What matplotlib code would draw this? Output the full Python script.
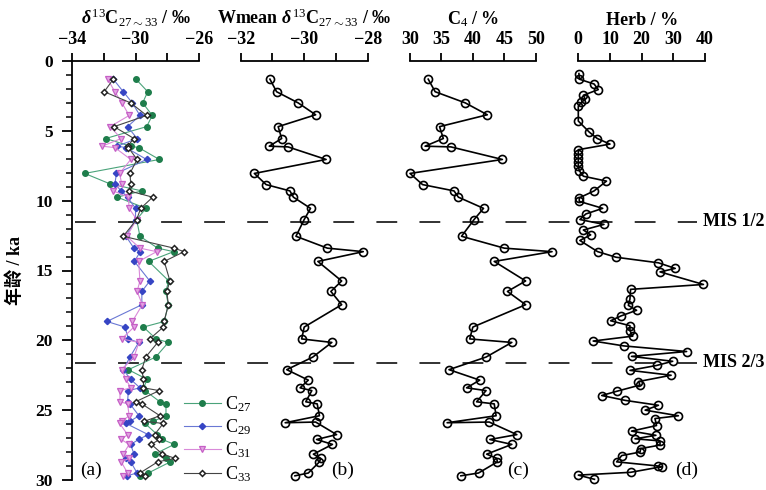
import numpy as np
import matplotlib
matplotlib.use('Agg')
import matplotlib.pyplot as plt

plt.rcParams['font.family'] = ['Liberation Serif', 'Noto Sans CJK SC', 'DejaVu Serif']
plt.rcParams['mathtext.fontset'] = 'custom'
plt.rcParams['mathtext.rm'] = 'Liberation Serif'
plt.rcParams['mathtext.it'] = 'Liberation Serif:italic'
plt.rcParams['mathtext.bf'] = 'Liberation Serif:bold'
plt.rcParams['mathtext.bfit'] = 'Liberation Serif:italic:bold'
plt.rcParams['lines.scale_dashes'] = False

# ---- data ----
ages_a = [1.3, 2.2, 3.0, 3.9, 4.7, 5.55, 6.1, 6.2, 7.05, 8.05, 8.8, 9.3, 9.75, 10.55,
          11.35, 12.55, 13.4, 13.65, 14.35, 15.75, 16.5, 17.45, 18.65, 19.05, 19.9,
          20.15, 21.2, 22.1, 22.8, 23.4, 23.6, 24.4, 24.55, 25.4, 25.8, 25.95, 26.75,
          27.1, 27.45, 28.15, 28.45, 28.7, 29.5, 29.7]
c27 = [-29.97, -29.23, -29.55, -28.94, -29.30, -31.88, -30.3, -29.8, -28.5, -33.2,
       -31.6, -29.6, -31.15, -29.34, -29.93, -29.72, -28.6, -27.6, -29.17, -27.9,
       -28.1, -27.93, -28.19, -29.5, -28.7, -27.93, -28.73, -30.45, -29.26, -29.5,
       -29.4, -28.46, -28.08, -28.08, -28.9, -29.4, -28.63, -28.3, -27.56, -28.8,
       -28.08, -27.8, -29.2, -29.7]
c29 = [-31.4, -30.77, -30.2, -29.72, -30.5, -29.9, -31.15, -30.6, -29.3, -31.2,
       -31.3, -30.9, -30.5, -30.0, -30.0, -30.6, -30.1, -29.7, -30.07, -29.1,
       -29.6, -29.6, -31.8, -30.66, -30.45, -29.8, -30.35, -30.77, -30.3, -29.72,
       -30.45, -30.5, -30.35, -29.78, -30.35, -30.6, -29.2, -29.8, -30.3, -30.1,
       -30.6, -30.3, -29.9, -30.55]
c31 = [-31.75, -31.3, -30.85, -30.4, -31.6, -30.9, -32.1, -31.3, -30.3, -31.0,
       -30.87, -31.4, -30.45, -30.4, -29.93, -30.55, -29.72, -28.67, -29.8, -29.72,
       -29.9, -29.57, -30.2, -30.1, -30.87, -29.78, -30.1, -30.87, -30.6, -30.3,
       -30.98, -30.98, -30.5, -30.4, -30.87, -31.0, -30.5, -30.9, -30.4, -30.77,
       -30.4, -30.9, -30.5, -30.8]
c33 = [-31.4, -31.97, -30.3, -29.3, -31.35, -30.1, -30.5, -30.45, -29.9, -30.35,
       -30.3, -30.4, -28.92, -29.67, -29.93, -30.77, -27.57, -26.94, -28.19, -27.83,
       -28.03, -27.93, -28.2, -28.25, -29.1, -28.6, -29.36, -29.6, -29.5, -29.5,
       -28.5, -30.0, -29.6, -28.46, -29.45, -28.25, -28.8, -28.5, -29.0, -28.3,
       -27.5, -28.6, -29.72, -29.4]

ages_b = [1.3, 2.2, 3.0, 3.85, 4.7, 5.55, 6.1, 6.15, 7.05, 8.05, 8.85, 9.3, 9.75,
          10.55, 11.35, 12.55, 13.4, 13.65, 14.35, 15.75, 16.5, 17.45, 19.05, 19.9,
          20.15, 21.2, 22.1, 22.85, 23.4, 23.6, 24.4, 24.55, 25.4, 25.9, 25.85, 26.75,
          27.1, 27.45, 28.15, 28.45, 28.7, 29.5, 29.7]
wmean = [-31.08, -30.87, -30.19, -29.64, -30.82, -30.71, -31.10, -30.51, -29.31,
         -31.57, -31.20, -30.45, -30.34, -29.80, -30.00, -30.26, -29.27, -28.14,
         -29.57, -28.82, -29.16, -28.82, -30.00, -30.08, -29.13, -29.73, -30.55,
         -29.87, -30.13, -29.76, -29.95, -29.59, -29.52, -30.60, -29.64, -28.98,
         -29.61, -29.11, -29.71, -29.48, -29.52, -29.87, -30.29]
c4 = [32.9, 34.0, 38.8, 42.3, 34.7, 35.3, 32.4, 36.5, 44.7, 30.0, 32.0, 37.0, 37.7,
      41.7, 40.2, 38.2, 45.0, 52.6, 43.4, 48.4, 45.5, 48.4, 40.0, 39.5, 46.2, 42.1,
      36.2, 41.1, 39.0, 42.1, 40.6, 43.4, 43.7, 35.9, 42.6, 47.0, 42.7, 46.2, 42.2,
      43.8, 43.9, 40.9, 38.1]

herb_age = [0.9, 1.3, 1.65, 2.05, 2.45, 2.75, 2.95, 3.25, 4.3, 5.1, 5.55, 5.95, 6.35,
            6.65, 6.95, 7.2, 7.5, 7.85, 8.25, 8.6, 9.3, 9.8, 10.05, 10.55, 10.95,
            11.35, 11.7, 12.1, 12.45, 12.85, 13.65, 14.05, 14.45, 14.85, 15.1, 16.0,
            16.35, 17.05, 17.5, 17.85, 18.25, 18.6, 18.95, 19.3, 19.7, 20.05, 20.4,
            20.8, 21.15, 21.5, 21.8, 22.15, 22.5, 22.95, 23.2, 23.65, 23.95, 24.3,
            24.65, 25.0, 25.4, 25.6, 26.1, 26.5, 26.8, 27.05, 27.2, 27.5, 27.75, 28.0,
            28.25, 28.7, 29.0, 29.05, 29.45, 29.65, 29.95]
herb = [0.2, 0.3, 5.0, 6.3, 1.6, 2.2, 1.0, 0, 0, 3.5, 6.0, 10.0, 0, 0, 0, 0, 0, 0.3,
        1.6, 8.9, 5.0, 0.3, 0.3, 7.7, 2.4, 0.5, 8.1, 1.6, 3.9, 0.5, 6.1, 11.9, 25.3,
        30.6, 25.8, 39.5, 16.5, 16.3, 15.8, 18.4, 13.5, 10.2, 16.3, 16.3, 17.2, 4.7,
        14.4, 34.2, 16.8, 29.8, 24.7, 16.3, 29.3, 19.0, 19.5, 12.1, 7.4, 14.8, 25.3,
        21.1, 31.6, 24.2, 24.7, 16.8, 24.5, 17.9, 25.8, 25.8, 19.7, 19.5, 13.7, 12.1,
        25.3, 26.3, 16.5, 0, 5.1]

mis_age = [11.5, 21.6]
mis_text = ['MIS 1/2', 'MIS 2/3']

# ---- figure ----
W, H = 766, 490
fig = plt.figure(figsize=(W / 100, H / 100), dpi=100)
TOP, BOT = 61, 480


def add_ax(x0, x1):
    return fig.add_axes([x0 / W, (H - BOT) / H, (x1 - x0) / W, (BOT - TOP) / H])


ax_a = add_ax(72, 199)
ax_b = add_ax(240.7, 367.7)
ax_c = add_ax(410, 535.7)
ax_d = add_ax(578.3, 705)
axes = [ax_a, ax_b, ax_c, ax_d]

for ax in axes:
    ax.set_ylim(30, 0)
    ax.patch.set_alpha(0)
    ax.xaxis.tick_top()
    ax.xaxis.set_label_position('top')
    for s in ['bottom', 'right', 'left']:
        ax.spines[s].set_visible(False)
    ax.spines['top'].set_linewidth(1.3)
    ax.tick_params(axis='x', direction='out', length=6, width=1.3, pad=3,
                   labelsize=13)

for ax in axes[1:]:
    ax.tick_params(axis='y', left=False, labelleft=False)

ax_a.spines['left'].set_visible(True)
ax_a.spines['left'].set_linewidth(1.3)
ax_a.set_yticks(np.arange(0, 31, 5))
ax_a.set_yticks(np.arange(0, 31, 1), minor=True)
ax_a.tick_params(axis='y', which='major', direction='out', length=7, width=1.3,
                 pad=7, labelsize=12.5)
ax_a.tick_params(axis='y', which='minor', direction='out', length=4, width=1.1)
ax_a.set_ylabel('年龄 / ka', fontsize=13, fontweight='bold', labelpad=8)

lab_kw = dict(fontsize=13, fontweight='bold', labelpad=5)

# (a)
ax_a.set_xlim(-34, -26)
ax_a.set_xticks([-34, -32, -30, -28, -26])
ax_a.set_xticklabels(['\u221234', '', '\u221230', '', '\u221226'])
ax_a.set_xlabel(r'$\mathbfit{\delta}^{\,13}$C$_{27\sim33}$ / ‰', **lab_kw)

series = [
    (c27, 'C$_{27}$', 'o', '#1e7d4b', '#4aa37a', 4.0),
    (c29, 'C$_{29}$', 'D', '#3645c4', '#6a78d4', 3.2),
    (c31, 'C$_{31}$', 'v', '#c65fc6', '#d98ad9', 4.0),
    (c33, 'C$_{33}$', 'D', '#222222', '#444444', 3.0),
]
handles = []
for vals, name, mk, mc, lc, ms in series:
    if name == 'C$_{33}$':
        face, mew = 'white', 1.1
    elif name == 'C$_{31}$':
        face, mew = '#e2a5e2', 0.9
    else:
        face, mew = mc, 1.0
    h, = ax_a.plot(vals, ages_a, color=lc, lw=0.8, marker=mk, ms=ms,
                   mfc=face, mec=mc, mew=mew, label=name, clip_on=False)
    handles.append(h)

ax_a.legend(handles=handles, loc='upper left', bbox_to_anchor=(0.885, 0.205),
            frameon=False, fontsize=13, handlelength=2.0, handletextpad=0.25,
            labelspacing=0.2, borderpad=0, borderaxespad=0)

# (b)
ax_b.set_xlim(-32, -28)
ax_b.set_xticks([-32, -31, -30, -29, -28])
ax_b.set_xticklabels(['\u221232', '', '\u221230', '', '\u221228'])
ax_b.set_xlabel(r'Wmean $\mathbfit{\delta}^{\,13}$C$_{27\sim33}$ / ‰', **lab_kw)

circ = dict(color='black', lw=1.2, marker='o', ms=5.8, mfc='none', mec='black',
            mew=1.2, clip_on=False)
ax_b.plot(wmean, ages_b, **circ)

# (c)
ax_c.set_xlim(30, 50)
ax_c.set_xticks([30, 35, 40, 45, 50])
ax_c.set_xlabel(r'C$_4$ / %', **lab_kw)
ax_c.plot(c4, ages_b, **circ)

# (d)
ax_d.set_xlim(0, 40)
ax_d.set_xticks([0, 10, 20, 30, 40])
ax_d.set_xlabel('Herb / %', **lab_kw)
ax_d.plot(herb, herb_age, **circ)

for ax in axes:
    for lab in ax.get_xticklabels():
        lab.set_fontweight('bold')
for lab in ax_a.get_yticklabels():
    lab.set_fontweight('bold')
    lab.set_verticalalignment('center_baseline')

# MIS boundaries across all panels
tr = ax_a.get_yaxis_transform()
x_end = (697 - 72) / 127
for a, t in zip(mis_age, mis_text):
    ax_a.plot([3 / 127, x_end], [a, a], transform=tr, color='#222222', lw=1.3,
              dashes=(15, 16), clip_on=False, zorder=0)
    ax_a.text((703 - 72) / 127, a, t, transform=tr, fontsize=13,
              fontweight='bold', va='center', ha='left')

# panel letters
for ax, lt, xf in zip(axes, ['(a)', '(b)', '(c)', '(d)'], [0.15, 0.80, 0.863, 0.858]):
    ax.text(xf, 29.3, lt, transform=ax.get_yaxis_transform(), fontsize=14,
            ha='center', va='center')

fig.savefig('out.png', dpi=100)
